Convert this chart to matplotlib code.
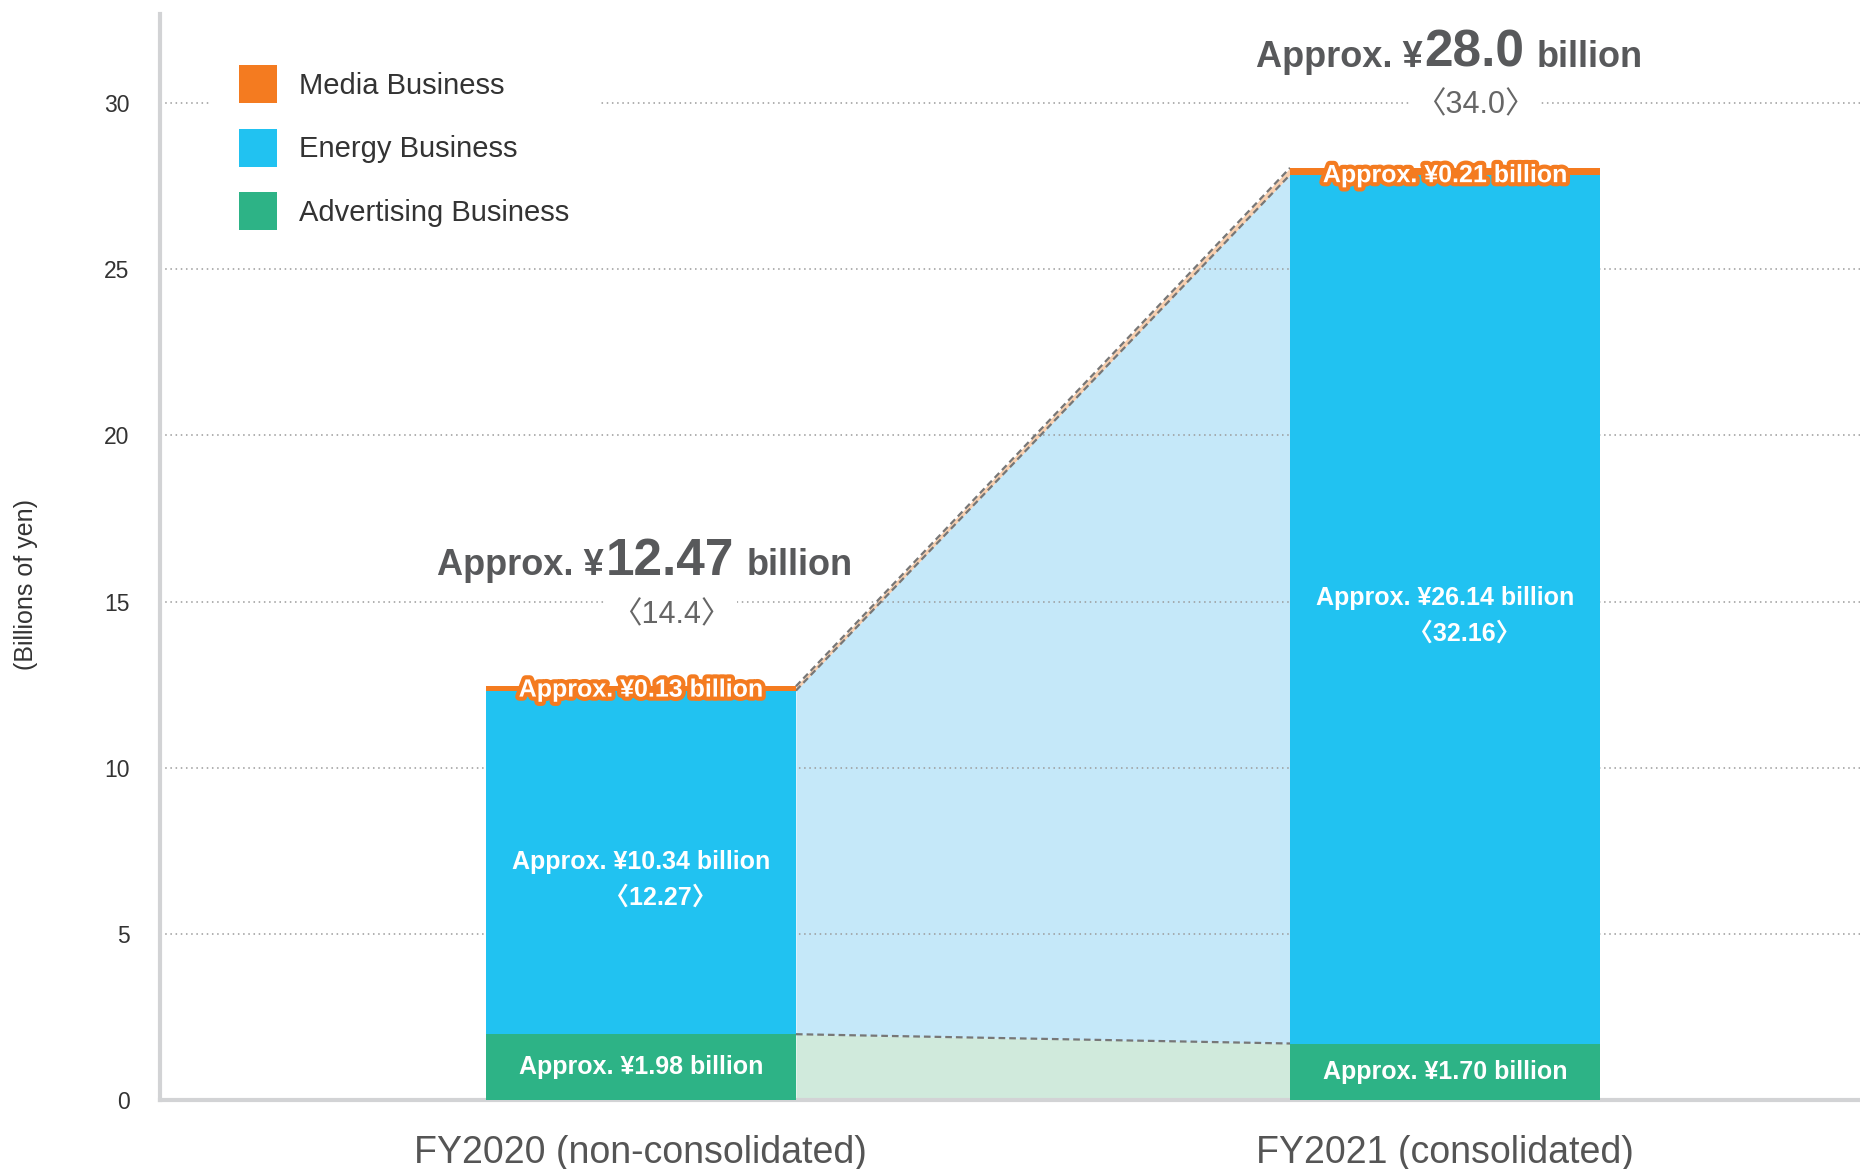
import numpy as np
import matplotlib
matplotlib.use("Agg")
import matplotlib.pyplot as plt
import matplotlib.patheffects as pe
from matplotlib.patches import Patch
from matplotlib.offsetbox import TextArea, HPacker, AnnotationBbox

plt.rcParams['font.family'] = ['Liberation Sans', 'Noto Sans CJK JP', 'DejaVu Sans']

# data (billions of yen)
categories = ['FY2020 (non-consolidated)', 'FY2021 (consolidated)']
advertising = [1.98, 1.70]
energy = [10.34, 26.14]
media = [0.13, 0.21]
total_text = ['12.47', '28.0']
total_prev = ['14.4', '34.0']
energy_prev = ['12.27', '32.16']
series_names = ['Media Business', 'Energy Business', 'Advertising Business']

ORANGE = '#F47B20'
BLUE = '#21C2F1'
GREEN = '#2DB386'
LIGHT_BLUE = '#C5E8F9'
LIGHT_GREEN = '#D0EADC'
PEACH = '#F8D0B0'
TITLE_C = '#58595B'
GRID_C = '#9A9A9A'
AXIS_C = '#D2D3D5'

W = 0.3856
# small per-bar nudges for the label layout
title_dy = [3.75, 3.45]
prev_dy = [2.12, 1.88]
energy_dy = [0.0, 0.33]
media_dy = [0.1, 0.22]

x = np.arange(len(categories))
adv = np.array(advertising)
ene = np.array(energy)
med = np.array(media)
top_e = adv + ene
top_m = top_e + med

fig = plt.figure(figsize=(18.6, 11.69), dpi=100)
ax = fig.add_axes([160 / 1860, 69 / 1169, 1700 / 1860, 1086 / 1169])
ax.set_xlim(-0.598, 1.516)
ax.set_ylim(0, 32.68)

# connecting areas between the two bars
xc = [x[0] + W / 2, x[1] - W / 2]
ax.fill_between(xc, 0, adv, color=LIGHT_GREEN, lw=0, zorder=1)
ax.fill_between(xc, adv, top_e, color=LIGHT_BLUE, lw=0, zorder=1)
ax.fill_between(xc, top_e, top_m, color=PEACH, lw=0, zorder=1)

# dotted grid
for yv in range(5, 31, 5):
    ax.axhline(yv, color=GRID_C, lw=1.1, ls=(0, (1, 2.4)), zorder=2)

for yy in [adv, top_e, top_m]:
    ax.plot(xc, yy, color='#777777', lw=1.6, ls=(0, (3, 1.8)), zorder=2.5)

# stacked bars
ax.bar(x, adv, W, color=GREEN, zorder=3)
ax.bar(x, ene, W, bottom=adv, color=BLUE, zorder=3)
ax.bar(x, med, W, bottom=top_e, color=ORANGE, zorder=3)

lab = dict(color='white', fontsize=18, fontweight='bold', ha='center', va='center', zorder=4)
small = dict(fontsize=26, fontweight='bold', color=TITLE_C)
big = dict(fontsize=37, fontweight='bold', color=TITLE_C)

for i in range(len(x)):
    ax.text(x[i], adv[i] / 2, f'Approx. ¥{advertising[i]:.2f} billion', **lab)
    mid = adv[i] + ene[i] / 2 + energy_dy[i]
    ax.text(x[i], mid, f'Approx. ¥{energy[i]:.2f} billion', **lab)
    ax.text(x[i] + 0.024, mid - 1.07, f'〈{energy_prev[i]}〉', **lab)
    ax.text(x[i], top_m[i] - media_dy[i], f'Approx. ¥{media[i]:.2f} billion',
            path_effects=[pe.withStroke(linewidth=6, foreground=ORANGE)], **lab)

    # total above bar
    head = HPacker(children=[TextArea('Approx. ¥', textprops=small),
                             TextArea(total_text[i], textprops=big)],
                   align='baseline', pad=0, sep=1)
    box = HPacker(children=[head, TextArea('billion', textprops=small)],
                  align='baseline', pad=0, sep=9)
    ab = AnnotationBbox(box, (x[i] + 0.005, top_m[i] + title_dy[i]), xycoords='data',
                        frameon=False, box_alignment=(0.5, 0.5), zorder=5)
    ax.add_artist(ab)
    ax.text(x[i] + 0.038, top_m[i] + prev_dy[i], f'〈{total_prev[i]}〉', color='#666666',
            fontsize=22, ha='center', va='center', zorder=5,
            bbox=dict(facecolor='white', edgecolor='none', pad=4))

# axes styling
for s in ['top', 'right']:
    ax.spines[s].set_visible(False)
for s in ['left', 'bottom']:
    ax.spines[s].set_color(AXIS_C)
    ax.spines[s].set_linewidth(3)
ax.set_yticks(range(0, 31, 5))
ax.tick_params(axis='y', length=0, pad=22, labelsize=16.5, labelcolor='#333333')
ax.set_xticks(x)
ax.set_xticklabels(categories)
ax.tick_params(axis='x', length=0, pad=25, labelsize=27, labelcolor='#555555')
fig.text(26 / 1860, 1 - 585 / 1169, '(Billions of yen)', rotation=90, fontsize=18,
         color='#333333', ha='center', va='center')

handles = [Patch(facecolor=c, edgecolor='none') for c in [ORANGE, BLUE, GREEN]]
leg = ax.legend(handles, series_names, loc='upper left', bbox_to_anchor=(210 / 1860, 1 - 36 / 1169),
                bbox_transform=fig.transFigure, fontsize=21, frameon=True, fancybox=False,
                handlelength=1.3, handleheight=1.63, labelspacing=0.87, handletextpad=0.75,
                borderpad=1.0, borderaxespad=0)
leg.get_frame().set_facecolor('white')
leg.get_frame().set_edgecolor('none')
leg.get_frame().set_alpha(1)
for t in leg.get_texts():
    t.set_color('#333333')

fig.savefig('out.png', dpi=100)
